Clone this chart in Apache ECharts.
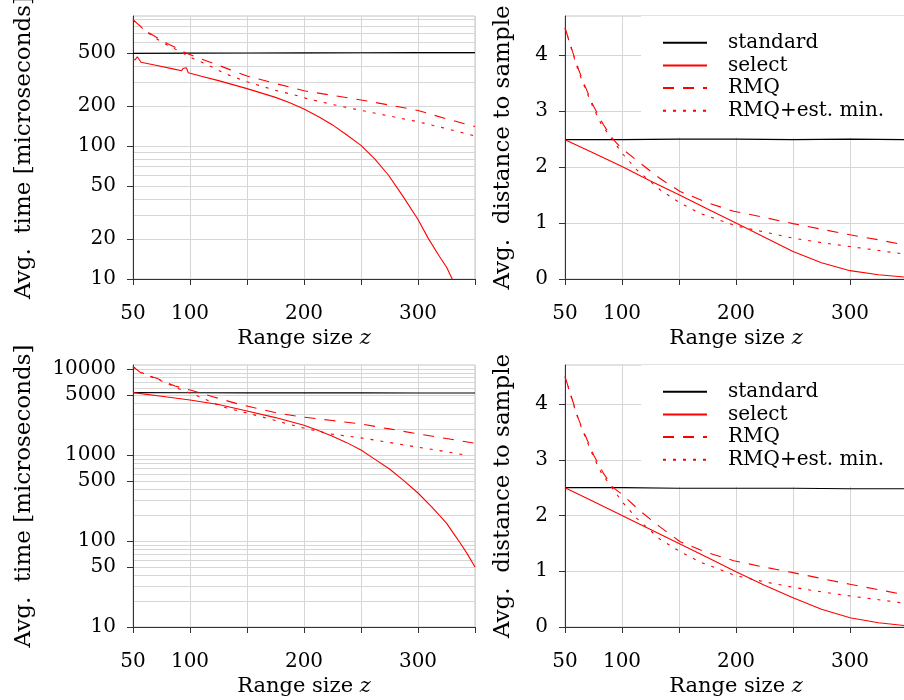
<!DOCTYPE html>
<html><head><meta charset="utf-8">
<script src="https://cdn.jsdelivr.net/npm/echarts@6/dist/echarts.min.js"></script>
<style>html,body{margin:0;padding:0;background:#fff}#c{width:904px;height:700px}</style>
</head><body><div id="c"></div>
<script>
// ---------------- data ----------------
const seriesNames = ['standard', 'select', 'RMQ', 'RMQ+est. min.'];
const xTickLabels = [50, 100, 200, 300];
const timeSmallTickLabels = [10, 20, 50, 100, 200, 500];
const timeSmallGridVals = [20, 30, 40, 50, 60, 70, 80, 90, 100, 200, 300, 400, 500, 600, 700, 800, 900];
const timeLargeTickLabels = [10, 50, 100, 500, 1000, 5000, 10000];
const timeLargeGridVals = [20, 30, 40, 50, 60, 70, 80, 90, 100, 200, 300, 400, 500, 600, 700, 800, 900,
  1000, 2000, 3000, 4000, 5000, 6000, 7000, 8000, 9000, 10000];
const distTickLabels = [0, 1, 2, 3, 4];

// top-left: avg. time (small)
const tlStdX = [50, 100, 150, 200, 250, 300, 350];
const tlStdY = [497, 499, 500, 501, 502, 503, 503];
const tlSelX = [50, 52, 53.8, 55.5, 57, 70, 85, 92.7, 93.8, 95, 96.8, 98.5, 110, 125, 150, 175, 187, 200, 214, 225, 237, 250, 262, 274, 287, 300, 309, 319, 325, 330];
const tlSelY = [443, 446, 469, 463, 426, 404, 380, 368, 382, 394, 388, 355, 334, 310, 270, 232, 212, 190, 164, 144, 122, 101, 80, 60.5, 41.6, 28, 20.2, 14.7, 12.3, 10];
const tlRmqX = [50, 55, 60, 65, 70, 75, 80, 90, 97, 110, 120, 135, 150, 175, 200, 225, 250, 275, 300, 325, 350];
const tlRmqY = [890, 815, 755, 700, 660, 625, 590, 535, 498, 450, 420, 375, 336, 295, 260, 240, 222, 203, 185, 160, 140];
const tlEstX = [50, 55, 60, 65, 70, 75, 80, 90, 100, 106, 115, 130, 150, 175, 195, 202, 225, 249, 275, 300, 325, 350];
const tlEstY = [885, 810, 745, 690, 645, 610, 575, 520, 465, 443, 410, 352, 304, 262, 238, 228, 205, 186, 168, 152, 135, 119];

// top-right: avg. distance to sample
const trStdX = [50, 100, 150, 200, 250, 300, 350];
const trStdY = [2.49, 2.49, 2.50, 2.50, 2.49, 2.50, 2.49];
const trSelX = [50, 75, 100, 125, 150, 175, 200, 225, 250, 275, 300, 325, 350];
const trSelY = [2.49, 2.25, 2.01, 1.75, 1.505, 1.25, 1.0, 0.745, 0.49, 0.29, 0.149, 0.075, 0.03];
const trRmqX = [50, 57, 62, 67.5, 75, 83.6, 92.4, 100, 116, 133, 151, 174, 198, 221, 250, 275, 300, 325, 350];
const trRmqY = [4.49, 4.04, 3.74, 3.45, 3.09, 2.76, 2.49, 2.33, 2.07, 1.80, 1.565, 1.37, 1.21, 1.117, 0.99, 0.89, 0.79, 0.70, 0.60];
const trEstX = [50, 57, 62, 67.5, 75, 82, 89.5, 100, 113, 133, 151, 168, 200, 225, 250, 275, 300, 325, 350];
const trEstY = [4.49, 4.02, 3.70, 3.42, 3.05, 2.76, 2.55, 2.25, 1.95, 1.60, 1.357, 1.177, 0.95, 0.84, 0.73, 0.65, 0.58, 0.51, 0.44];

// bottom-left: avg. time (large)
const blStdX = [50, 100, 150, 200, 250, 300, 350];
const blStdY = [5350, 5330, 5320, 5320, 5310, 5300, 5300];
const blSelX = [50, 75, 100, 125, 150, 175, 200, 212, 225, 237, 250, 262, 275, 287, 300, 312, 325, 331, 337, 343, 350];
const blSelY = [5350, 4850, 4400, 3900, 3270, 2740, 2230, 1950, 1660, 1410, 1150, 900, 690, 513, 363, 251, 162, 124, 95, 72, 50];
const blRmqX = [50, 57.6, 70.8, 86.8, 101, 120, 141, 160, 177.5, 197, 225, 250, 275, 300, 325, 350];
const blRmqY = [10700, 8970, 7850, 6400, 5700, 4800, 3985, 3480, 3076, 2800, 2530, 2312, 2023, 1771, 1563, 1380];
const blEstX = [50, 60, 75, 90, 100, 110, 128, 160, 196.5, 223, 252, 275, 300, 325, 345];
const blEstY = [10700, 8800, 7300, 5950, 5300, 4700, 3670, 2866, 2117, 1771, 1578, 1406, 1239, 1096, 989];

// bottom-right: avg. distance to sample
const brStdX = [50, 100, 150, 200, 250, 300, 350];
const brStdY = [2.50, 2.50, 2.49, 2.49, 2.49, 2.48, 2.48];
const brSelX = [50, 75, 100, 125, 150, 175, 200, 225, 250, 275, 300, 325, 350];
const brSelY = [2.50, 2.25, 2.0, 1.75, 1.50, 1.245, 0.993, 0.75, 0.526, 0.32, 0.167, 0.075, 0.02];
const brRmqX = [50, 57, 62, 67.5, 75, 83.6, 92.4, 100, 116, 133, 151, 174, 198, 221, 250, 275, 300, 325, 350];
const brRmqY = [4.49, 4.04, 3.72, 3.45, 3.09, 2.76, 2.50, 2.38, 2.08, 1.80, 1.53, 1.34, 1.19, 1.09, 0.975, 0.87, 0.766, 0.67, 0.57];
const brEstX = [50, 57, 62, 67.5, 75, 82, 89.5, 100, 113, 133, 151, 168, 200, 225, 250, 275, 300, 325, 350];
const brEstY = [4.49, 4.02, 3.70, 3.42, 3.05, 2.76, 2.55, 2.25, 1.95, 1.58, 1.352, 1.17, 0.92, 0.81, 0.713, 0.63, 0.557, 0.49, 0.42];

// ---------------- chart ----------------
const FONT = 'DejaVu Serif';
const RED = '#ff0000';
const AXIS = '#333333';
const GRIDC = '#d6d6d6';

const grids = [
  {left: 133, top: 16, width: 342, height: 263},
  {left: 565, top: 16, width: 342, height: 263},
  {left: 133, top: 365, width: 342, height: 262},
  {left: 565, top: 365, width: 342, height: 262}
].map(g => Object.assign({show: true, borderColor: '#c4c4c4', borderWidth: 1,
  backgroundColor: 'transparent', containLabel: false, outerBoundsMode: 'none'}, g));

function xAxisOf(i) {
  return {
    type: 'value', gridIndex: i, min: 50, max: 350, interval: 50,
    axisLine: {show: true, onZero: false, lineStyle: {color: AXIS, width: 1}},
    axisTick: {show: true, length: 6, lineStyle: {color: AXIS}},
    axisLabel: {margin: 25, fontFamily: FONT, fontSize: 20, color: '#000',
      formatter: v => xTickLabels.includes(v) ? String(v) : ''},
    splitLine: {show: true, lineStyle: {color: GRIDC, width: 1}},
    name: 'Range size {i|z}', nameLocation: 'middle', nameGap: 49,
    nameTextStyle: {fontFamily: FONT, fontSize: 21, color: '#000',
      rich: {i: {fontFamily: FONT, fontSize: 21, fontStyle: 'italic', color: '#000'}}}
  };
}
const yNameStyle = {fontFamily: FONT, fontSize: 23, color: '#000'};

function logAxes(i, max, labels, gridVals) {
  return [
    {type: 'log', logBase: 10, gridIndex: i, min: 10, max: max,
      axisLine: {show: true, onZero: false, lineStyle: {color: AXIS}},
      axisTick: {show: true, length: 6, customValues: labels, lineStyle: {color: AXIS}},
      axisLabel: {customValues: labels, margin: 17, fontFamily: FONT, fontSize: 20, color: '#000',
        formatter: v => String(Math.round(v))},
      splitLine: {show: false},
      name: 'Avg.  time [microseconds]', nameLocation: 'middle', nameGap: 97, nameRotate: 90,
      nameTextStyle: yNameStyle},
    {type: 'log', logBase: 10, gridIndex: i, min: 10, max: max,
      axisLine: {show: false}, axisTick: {show: false, customValues: gridVals},
      axisLabel: {show: false},
      splitLine: {show: true, lineStyle: {color: GRIDC, width: 1}}}
  ];
}
function distAxis(i) {
  return {type: 'value', gridIndex: i, min: 0, max: 4.7, interval: 1,
    axisLine: {show: true, onZero: false, lineStyle: {color: AXIS}},
    axisTick: {show: true, length: 6, customValues: distTickLabels, lineStyle: {color: AXIS}},
    axisLabel: {customValues: distTickLabels, margin: 17, fontFamily: FONT, fontSize: 20, color: '#000'},
    splitLine: {show: true, lineStyle: {color: GRIDC, width: 1}},
    name: 'Avg.  distance to sample', nameLocation: 'middle', nameGap: 50, nameRotate: 90,
    nameTextStyle: yNameStyle};
}

const yAxes = [].concat(
  logAxes(0, 949, timeSmallTickLabels, timeSmallGridVals), // 0,1
  [distAxis(1)],                                             // 2
  logAxes(2, 11220, timeLargeTickLabels, timeLargeGridVals), // 3,4
  [distAxis(3)]                                              // 5
);

const styles = [
  {color: '#000000', width: 1.1, type: 'solid'},
  {color: RED, width: 1.1, type: 'solid'},
  {color: RED, width: 1.1, type: [11, 9]},
  {color: RED, width: 1.1, type: [3, 7]}
];
function mk(k, xs, ys, xi, yi) {
  return {name: seriesNames[k], type: 'line', xAxisIndex: xi, yAxisIndex: yi,
    data: xs.map((x, j) => [x, ys[j]]), symbol: 'none', showSymbol: false,
    silent: true, animation: false, clip: true, z: 3,
    lineStyle: styles[k], itemStyle: {color: styles[k].color}};
}
const panels = [
  [0, 0, [[tlStdX, tlStdY], [tlSelX, tlSelY], [tlRmqX, tlRmqY], [tlEstX, tlEstY]]],
  [1, 2, [[trStdX, trStdY], [trSelX, trSelY], [trRmqX, trRmqY], [trEstX, trEstY]]],
  [2, 3, [[blStdX, blStdY], [blSelX, blSelY], [blRmqX, blRmqY], [blEstX, blEstY]]],
  [3, 5, [[brStdX, brStdY], [brSelX, brSelY], [brRmqX, brRmqY], [brEstX, brEstY]]]
];
const series = [];
panels.forEach(([xi, yi, arr]) => arr.forEach((p, k) => series.push(mk(k, p[0], p[1], xi, yi))));

function legendAt(top) {
  return {show: true, orient: 'vertical', left: 641, top: top,
    padding: [16.7, 80, 16.8, 21], backgroundColor: '#ffffff',
    itemWidth: 44, itemHeight: 14, itemGap: 2.7, selectedMode: false,
    itemStyle: {opacity: 0, borderWidth: 0},
    data: seriesNames, formatter: n => '{t|' + n + '}',
    textStyle: {fontFamily: FONT, fontSize: 20, color: '#000',
      rich: {t: {fontFamily: FONT, fontSize: 20, color: '#000', lineHeight: 20, padding: [0, 0, 0, 16]}}},
    z: 10};
}

const chart = echarts.init(document.getElementById('c'), null, {renderer: 'canvas'});
chart.setOption({
  animation: false,
  backgroundColor: '#ffffff',
  grid: grids,
  xAxis: [0, 1, 2, 3].map(xAxisOf),
  yAxis: yAxes,
  legend: [legendAt(16), legendAt(365)],
  series: series
});
</script></body></html>
